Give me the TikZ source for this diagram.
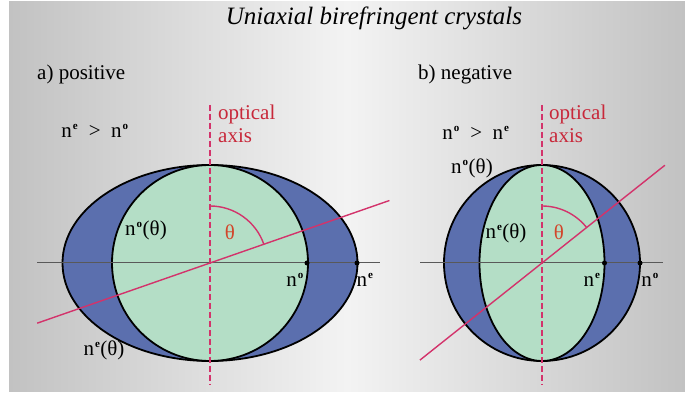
\documentclass[tikz,border=0pt]{standalone}
\usepackage{fontspec}
\setmainfont{Liberation Serif}
\usepackage{xcolor}
\definecolor{bgSide}    {HTML}{C2C2C2}
\definecolor{bgMid}     {HTML}{F3F3F3}
\definecolor{outerBlue} {HTML}{5B6FAE}
\definecolor{innerGreen}{HTML}{B4DEC6}
\definecolor{rayRed}    {HTML}{D3336B}
\definecolor{axisRed}   {HTML}{C8283A}
\definecolor{thetaRed}  {HTML}{D2452A}
\usetikzlibrary{arrows.meta, positioning, calc}
\tikzset{
    outline/.style={draw=black, line width=1.8pt},
    bluefill/.style={outline, fill=outerBlue},
    greenfill/.style={outline, fill=innerGreen},
    baseaxis/.style={draw=gray!70!black, line width=1pt},
    opticaxis/.style={draw=rayRed, line width=1.6pt, dash pattern=on 6pt off 3pt},
    ray/.style={draw=rayRed, line width=1.4pt},
    anglearc/.style={draw=rayRed, line width=1.4pt},
    tip/.style={circle, fill=black, inner sep=0pt, minimum size=5pt},
    lbl/.style={inner sep=0pt, font=\fontsize{21}{23}\selectfont},
    axislbl/.style={lbl, text=axisRed, align=left, anchor=west},
    thetalbl/.style={lbl, text=thetaRed},
}
\newcommand{\nidx}[1]{n\kern1pt\textsuperscript{\fontsize{11}{11}\selectfont\bfseries #1}}

\begin{document}
\begin{tikzpicture}[x=1pt, y=1pt]
    \useasboundingbox (0,0) rectangle (685,396);
    \fill[left color=bgSide, right color=bgSide, middle color=bgMid] (9,4) rectangle (685,394);
    \node[font=\fontsize{25}{27}\selectfont\itshape] (title) at (374,378) {Uniaxial birefringent crystals};
    % a) positive crystal
    \node[lbl, anchor=west] (posHead) at (37,322) {a) positive};
    \coordinate (cA) at (210,133);
    \coordinate (hA1) at ($(cA)+(-173,0)$);
    \coordinate (hA2) at ($(cA)+(170,0)$);
    \coordinate (oA1) at ($(cA)+(0,158)$);
    \coordinate (oA2) at ($(cA)+(0,-122)$);
    \coordinate (rA1) at ($(cA)+(199.2:183)$);
    \coordinate (rA2) at ($(cA)+(19.2:190)$);
    \draw[bluefill] (cA) ellipse [x radius=147.5, y radius=98];
    \draw[greenfill] (cA) circle [radius=98];
    \draw[baseaxis] (hA1) -- (hA2);
    \draw[ray] (rA1) -- (rA2);
    \draw[opticaxis] (oA1) -- (oA2);
    \draw[anglearc] ([shift={(90:57)}]cA) arc[start angle=90, end angle=19.2, radius=57];
    \node[tip] (noA) at ($(cA)+(97,0)$) {};
    \node[tip] (neA) at ($(cA)+(147,0)$) {};
    \node[lbl] (relA) at (95,265) {\nidx{e}\ \ >\ \ \nidx{o}};
    \node[axislbl] (axA) at (218,272) {optical\\axis};
    \node[lbl] (noThA) at (146,166) {\nidx{o}(θ)};
    \node[thetalbl] (thA) at (230,164) {θ};
    \node[lbl] (noLblA) at (295,116) {\nidx{o}};
    \node[lbl] (neLblA) at (365,116) {\nidx{e}};
    \node[lbl] (neThA) at (104,46) {\nidx{e}(θ)};
    % b) negative crystal
    \node[lbl, anchor=west] (negHead) at (418,322) {b) negative};
    \coordinate (cB) at (542,133);
    \coordinate (hB1) at ($(cB)+(-122,0)$);
    \coordinate (hB2) at ($(cB)+(121,0)$);
    \coordinate (oB1) at ($(cB)+(0,158)$);
    \coordinate (oB2) at ($(cB)+(0,-122)$);
    \coordinate (rB1) at ($(cB)+(218.5:156)$);
    \coordinate (rB2) at ($(cB)+(38.5:157)$);
    \draw[bluefill] (cB) circle [radius=98];
    \draw[greenfill] (cB) ellipse [x radius=62.5, y radius=98];
    \draw[baseaxis] (hB1) -- (hB2);
    \draw[ray] (rB1) -- (rB2);
    \draw[opticaxis] (oB1) -- (oB2);
    \draw[anglearc] ([shift={(90:57)}]cB) arc[start angle=90, end angle=38.5, radius=57];
    \node[tip] (neB) at ($(cB)+(62.5,0)$) {};
    \node[tip] (noB) at ($(cB)+(98,0)$) {};
    \node[lbl] (relB) at (476,263) {\nidx{o}\ \ >\ \ \nidx{e}};
    \node[axislbl] (axB) at (549,272) {optical\\axis};
    \node[lbl] (noThB) at (472,228) {\nidx{o}(θ)};
    \node[lbl] (neThB) at (506,163) {\nidx{e}(θ)};
    \node[thetalbl] (thB) at (559,164) {θ};
    \node[lbl] (neLblB) at (592,116) {\nidx{e}};
    \node[lbl] (noLblB) at (650,116) {\nidx{o}};
\end{tikzpicture}
\end{document}
